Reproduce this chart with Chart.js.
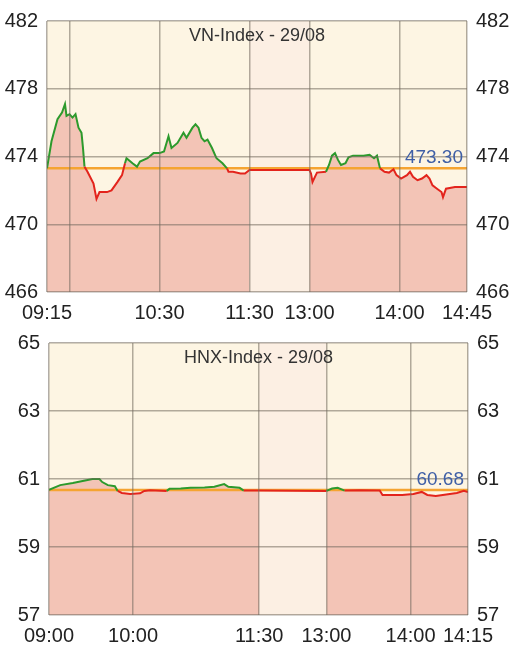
<!DOCTYPE html>
<html>
<head>
<meta charset="utf-8">
<script src="https://cdn.jsdelivr.net/npm/chart.js@4.4.0/dist/chart.umd.min.js"></script>
<style>
  body { margin: 0; background: #fff; }
  .box { position: relative; width: 515px; }
  canvas { display: block; }
</style>
</head>
<body>
<div class="box" style="height:320px"><canvas id="vn" width="515" height="320"></canvas></div>
<div class="box" style="height:336px"><canvas id="hnx" width="515" height="336"></canvas></div>
<script>
// x positions are trading minutes from the open, lunch break squeezed into a short band

// VN-Index
const vnTitle = 'VN-Index - 29/08'
const vnRef = 473.30
const vnTickPos = [0, 15, 75, 135, 175, 235, 280]
const vnTickLabels = ['09:15', '', '10:30', '11:30', '13:00', '14:00', '14:45']
const vnLunch = [135, 175]
const vnYTicks = [466, 482, 4]
const vnPos = [0, 3, 7, 10, 12, 13, 15, 17, 19, 21, 23, 24, 25, 27, 31, 33, 35, 40, 43, 47,
  50, 52, 53, 57, 60, 62, 67, 71, 75, 78, 81, 83, 87, 91, 93, 97, 99, 101, 103, 105,
  107, 110, 112, 113, 117, 120, 121, 124, 129, 132, 135, 175, 176, 177, 180, 186, 188, 190, 192, 194,
  196, 199, 201, 204, 211, 215, 218, 220, 222, 225, 228, 231, 233, 236, 240, 242, 244, 247, 250, 253,
  255, 257, 260, 263, 264, 266, 272, 280]
const vnValues = [473.3, 474.9, 476.2, 476.6, 477.1, 476.4, 476.5, 476.3, 476.5, 475.7, 475.4, 474.5, 473.4, 473.1, 472.4, 471.5, 471.9, 471.9, 472.0, 472.5,
  472.9, 473.6, 473.9, 473.6, 473.4, 473.7, 473.9, 474.2, 474.2, 474.3, 475.2, 474.5, 474.8, 475.4, 475.1, 475.7, 475.9, 475.7, 475.1, 474.9,
  475.0, 474.5, 474.1, 473.9, 473.6, 473.3, 473.1, 473.1, 473.0, 473.0, 473.2, 473.2, 473.0, 472.5, 473.05, 473.1, 473.5, 474.05, 474.2, 473.8,
  473.5, 473.6, 473.95, 474.05, 474.05, 474.1, 473.9, 474.05, 473.3, 473.1, 473.05, 473.25, 472.9, 472.7, 472.9, 473.1, 472.8, 472.6, 472.7, 472.9,
  472.7, 472.3, 472.1, 471.9, 471.6, 472.1, 472.2, 472.2]

// HNX-Index
const hnxTitle = 'HNX-Index - 29/08'
const hnxRef = 60.68
const hnxTickPos = [0, 60, 150, 198, 258, 299]
const hnxTickLabels = ['09:00', '10:00', '11:30', '13:00', '14:00', '14:15']
const hnxLunch = [150, 198]
const hnxYTicks = [57, 65, 2]
const hnxPos = [0, 8, 17, 24, 31, 36, 38, 42, 47, 49, 52, 58, 65, 68, 72, 84, 86, 94, 101, 111,
  118, 125, 128, 136, 139, 150, 198, 202, 206, 211, 222, 236, 238, 252, 260, 266, 270, 276, 281, 286,
  291, 296, 299]
const hnxValues = [60.68, 60.82, 60.88, 60.94, 61.0, 61.0, 60.91, 60.82, 60.79, 60.65, 60.59, 60.56, 60.58, 60.65, 60.67, 60.65, 60.71, 60.72, 60.74, 60.75,
  60.77, 60.85, 60.77, 60.74, 60.66, 60.66, 60.65, 60.72, 60.74, 60.66, 60.67, 60.66, 60.53, 60.53, 60.56, 60.62, 60.53, 60.50, 60.53, 60.56,
  60.59, 60.65, 60.62]

const font = "'Liberation Sans', Arial, sans-serif"
const gridColor = 'rgba(115, 105, 95, 0.55)'

const panelPlugin = {
  id: 'panel',
  beforeDatasetsDraw(chart, args, opts) {
    const { ctx, chartArea: a, scales: { x } } = chart
    ctx.save()
    ctx.fillStyle = '#fdf5e3'
    ctx.fillRect(a.left, a.top, a.width, a.height)
    const l = x.getPixelForValue(opts.lunch[0])
    const r = x.getPixelForValue(opts.lunch[1])
    ctx.fillStyle = '#fcefe3'
    ctx.fillRect(l, a.top, r - l, a.height)
    ctx.restore()
  },
  afterDraw(chart, args, opts) {
    const { ctx, chartArea: a, scales: { y } } = chart
    ctx.save()
    ctx.font = '18px ' + font
    ctx.fillStyle = '#333'
    ctx.textAlign = 'center'
    ctx.textBaseline = 'middle'
    ctx.fillText(opts.title, (a.left + a.right) / 2, a.top + 15)
    ctx.font = '19px ' + font
    ctx.fillStyle = '#3f5fa6'
    ctx.textAlign = 'right'
    ctx.textBaseline = 'alphabetic'
    ctx.fillText(opts.ref.toFixed(2), a.right - 4, y.getPixelForValue(opts.ref) - 5)
    ctx.restore()
  }
}

function yAxis(ticks, side, width, showGrid) {
  return {
    position: side,
    min: ticks[0],
    max: ticks[1],
    afterFit: (s) => { s.width = width },
    grid: { display: showGrid, color: gridColor, lineWidth: 1.5, drawTicks: false, z: 1 },
    border: { display: false },
    ticks: { stepSize: ticks[2], padding: 9, color: '#222', font: { family: font, size: 20 } }
  }
}

function makeChart(id, s) {
  const points = s.pos.map((p, i) => ({ x: p, y: s.values[i] }))
  // area fill breaks over the lunch band
  const fillPoints = []
  points.forEach((p) => {
    if (p.x === s.lunch[1]) fillPoints.push({ x: (s.lunch[0] + s.lunch[1]) / 2, y: null })
    fillPoints.push(p)
  })
  const xMax = s.tickPos[s.tickPos.length - 1]

  return new Chart(document.getElementById(id), {
    type: 'line',
    data: {
      datasets: [
        {
          data: points,
          borderWidth: 2,
          pointRadius: 0,
          fill: false,
          order: 1,
          segment: {
            borderColor: (c) => (c.p0.parsed.y + c.p1.parsed.y) / 2 >= s.ref ? '#2c9a2c' : '#e3241c'
          }
        },
        {
          data: [{ x: 0, y: s.ref }, { x: xMax, y: s.ref }],
          borderColor: '#f5a431',
          borderWidth: 2.5,
          pointRadius: 0,
          fill: false,
          order: 2
        },
        {
          data: fillPoints,
          borderWidth: 0,
          pointRadius: 0,
          backgroundColor: '#f3c4b6',
          fill: 'start',
          spanGaps: false,
          order: 3
        }
      ]
    },
    options: {
      responsive: false,
      animation: false,
      devicePixelRatio: 1,
      layout: { padding: { top: s.top, left: 0, right: 0, bottom: 0 } },
      plugins: {
        legend: { display: false },
        tooltip: { enabled: false },
        panel: { title: s.title, ref: s.ref, lunch: s.lunch }
      },
      scales: {
        x: {
          type: 'linear',
          min: 0,
          max: xMax,
          afterBuildTicks: (sc) => { sc.ticks = s.tickPos.map((v) => ({ value: v })) },
          afterFit: (sc) => { sc.height = s.xHeight },
          grid: { color: gridColor, lineWidth: 1.5, drawTicks: false, z: 1 },
          border: { display: false },
          ticks: {
            autoSkip: false,
            maxRotation: 0,
            padding: 9,
            color: '#222',
            font: { family: font, size: 20 },
            callback: (v, i) => s.tickLabels[i]
          }
        },
        y: yAxis(s.yTicks, 'left', s.left, true),
        y2: yAxis(s.yTicks, 'right', s.right, false)
      }
    },
    plugins: [panelPlugin]
  })
}

makeChart('vn', {
  title: vnTitle, ref: vnRef, pos: vnPos, values: vnValues, lunch: vnLunch,
  tickPos: vnTickPos, tickLabels: vnTickLabels, yTicks: vnYTicks,
  top: 20, xHeight: 28, left: 47, right: 48
})

makeChart('hnx', {
  title: hnxTitle, ref: hnxRef, pos: hnxPos, values: hnxValues, lunch: hnxLunch,
  tickPos: hnxTickPos, tickLabels: hnxTickLabels, yTicks: hnxYTicks,
  top: 23, xHeight: 41, left: 49, right: 47
})
</script>
</body>
</html>
